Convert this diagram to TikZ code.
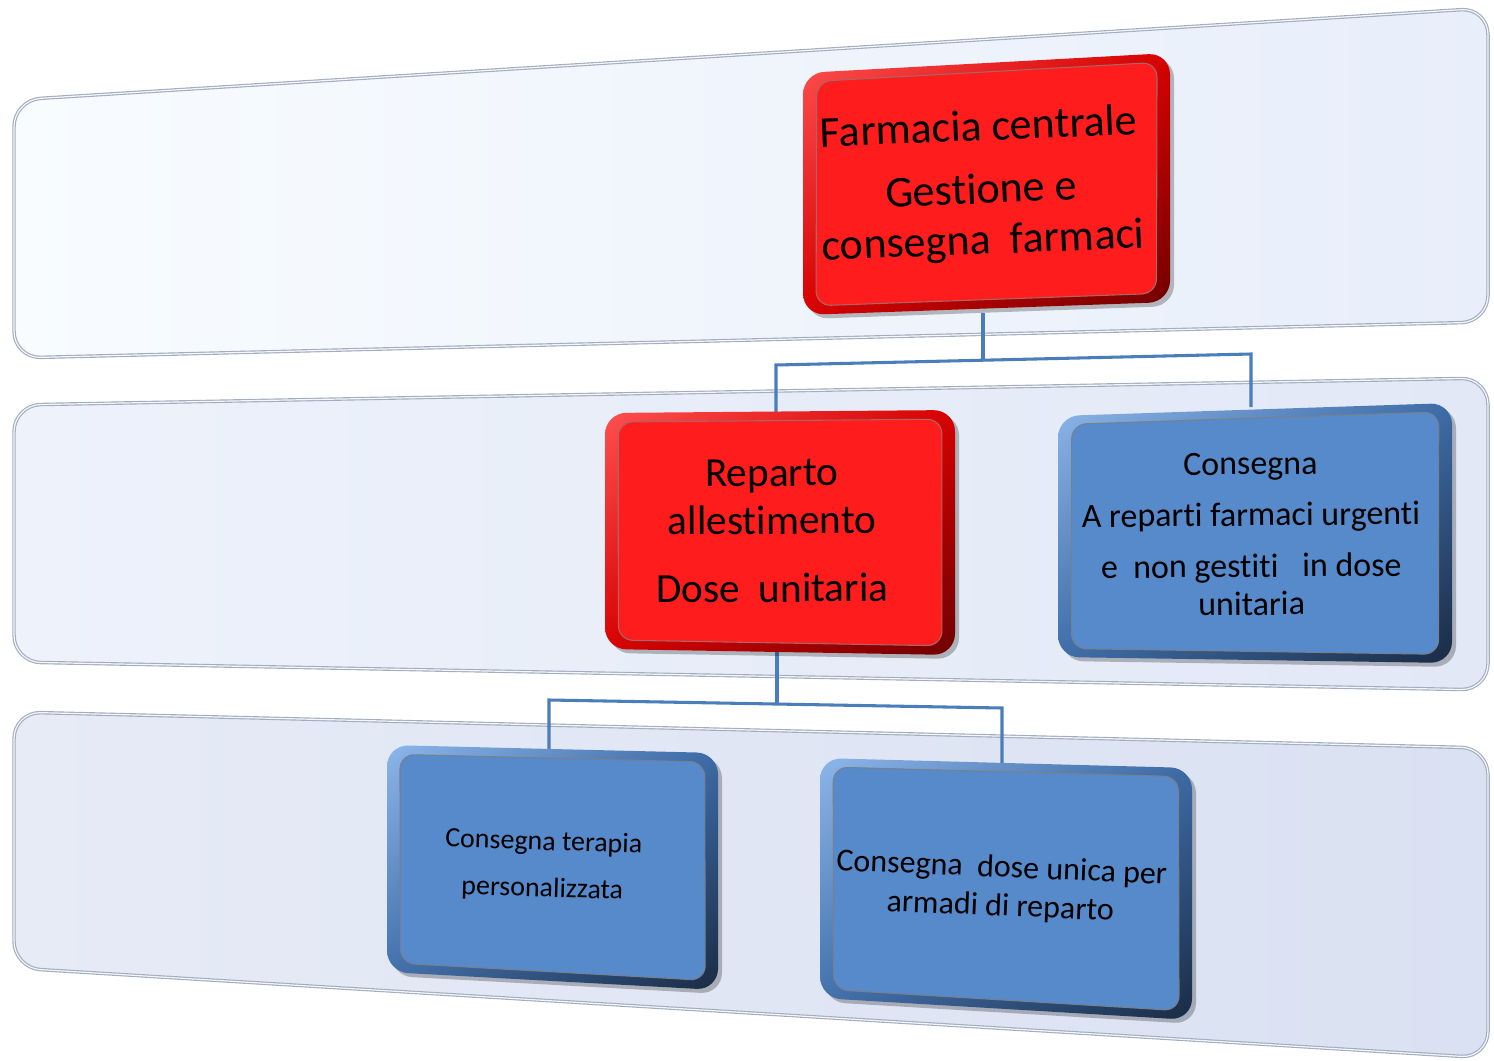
\documentclass[tikz,border=0pt]{standalone}
\usepackage{fontspec}
\setmainfont[Ligatures={NoCommon}]{Carlito}
\usetikzlibrary{calc,shadings}
\definecolor{redface}{HTML}{FF1C1C}
\definecolor{redlight}{HTML}{FF5050}
\definecolor{redmid}{HTML}{D80000}
\definecolor{reddark}{HTML}{6E0000}
\definecolor{blueface}{HTML}{578ACB}
\definecolor{bluelight}{HTML}{8DB6E9}
\definecolor{bluemid}{HTML}{3D6CA8}
\definecolor{bluedark}{HTML}{1A2B44}
\definecolor{connc}{HTML}{4A7EBB}
\definecolor{bandedge}{HTML}{A3ADC0}
\definecolor{bandinner}{HTML}{F4F6FA}
\definecolor{bandAl}{HTML}{F8FCFF}
\definecolor{bandAr}{HTML}{E8EEFA}
\definecolor{bandBl}{HTML}{EDF2FB}
\definecolor{bandBr}{HTML}{E2E8F6}
\definecolor{bandCl}{HTML}{E6EBF6}
\definecolor{bandCr}{HTML}{DAE1F2}
\newcommand\bevbox[6]{%
  \fill[black, opacity=0.25, rounded corners=16pt]
    ($(#1)+(4,4)$)--($(#2)+(4,4)$)--($(#3)+(4,4)$)--($(#4)+(4,4)$)--cycle;
  \shade[rounded corners=16pt, upper left=#5light, upper right=#5mid,
         lower left=#5mid, lower right=#5dark]
    (#1)--(#2)--(#3)--(#4)--cycle;
  \fill[#5face, draw=#5dark!60, line width=0.8pt, rounded corners=11pt]
    ($(#1)!12pt!(#6)$)--($(#2)!12pt!(#6)$)--($(#3)!12pt!(#6)$)--($(#4)!12pt!(#6)$)--cycle;
}
\newcommand\bandshape[6]{%
  \shade[left color=#5, right color=#6, rounded corners=20pt]
    (#1)--(#2)--(#3)--(#4)--cycle;
  \draw[bandedge, line width=2.6pt, rounded corners=20pt]
    (#1)--(#2)--(#3)--(#4)--cycle;
  \draw[bandinner, line width=0.9pt, rounded corners=20pt]
    (#1)--(#2)--(#3)--(#4)--cycle;
}
\begin{document}
\begin{tikzpicture}[x=0.75pt,y=-0.75pt,
  conn/.style={draw=connc, line width=2.3pt},
  txt/.style={align=center, text=black, inner sep=0pt}]
\useasboundingbox (0,0) rectangle (1494,1060);
% bands
\coordinate (a1) at (14,100); \coordinate (a2) at (1488,8);
\coordinate (a3) at (1488,322); \coordinate (a4) at (14,358);
\bandshape{a1}{a2}{a3}{a4}{bandAl}{bandAr}
\coordinate (c1) at (14,405); \coordinate (c2) at (1488,378);
\coordinate (c3) at (1488,690); \coordinate (c4) at (14,662);
\bandshape{c1}{c2}{c3}{c4}{bandBl}{bandBr}
\coordinate (d1) at (14,712); \coordinate (d2) at (1488,748);
\coordinate (d3) at (1488,1058); \coordinate (d4) at (14,968);
\bandshape{d1}{d2}{d3}{d4}{bandCl}{bandCr}
% connectors
\coordinate (b1s) at (983,313); \coordinate (j1) at (983,360);
\coordinate (j1l) at (776,365); \coordinate (j1r) at (1251,354);
\coordinate (b2n) at (776,414); \coordinate (b3n) at (1251,407);
\draw[conn] (b1s) -- (j1);
\draw[conn] (b2n) -- (j1l) -- (j1r) -- (b3n);
\coordinate (b2s) at (777,650); \coordinate (j2) at (777,704);
\coordinate (j2l) at (549,700); \coordinate (j2r) at (1002,708);
\coordinate (b4n) at (549,750); \coordinate (b5n) at (1002,763);
\draw[conn] (b2s) -- (j2);
\draw[conn] (b4n) -- (j2l) -- (j2r) -- (b5n);
% box 1
\coordinate (p1) at (803,73); \coordinate (p2) at (1170,53);
\coordinate (p3) at (1170,302); \coordinate (p4) at (803,315);
\coordinate (pc) at (986,186);
\bevbox{p1}{p2}{p3}{p4}{red}{pc}
% box 2
\coordinate (q1) at (605,413); \coordinate (q2) at (955,410);
\coordinate (q3) at (955,655); \coordinate (q4) at (605,649);
\coordinate (qc) at (780,532);
\bevbox{q1}{q2}{q3}{q4}{red}{qc}
% box 3
\coordinate (r1) at (1058,416); \coordinate (r2) at (1452,403);
\coordinate (r3) at (1452,663); \coordinate (r4) at (1058,657);
\coordinate (rc) at (1255,535);
\bevbox{r1}{r2}{r3}{r4}{blue}{rc}
% box 4
\coordinate (s1) at (387,745); \coordinate (s2) at (718,753);
\coordinate (s3) at (718,990); \coordinate (s4) at (387,972);
\coordinate (sc) at (552,865);
\bevbox{s1}{s2}{s3}{s4}{blue}{sc}
% box 5
\coordinate (t1) at (820,758); \coordinate (t2) at (1192,768);
\coordinate (t3) at (1192,1020); \coordinate (t4) at (820,998);
\coordinate (tc) at (1006,886);
\bevbox{t1}{t2}{t3}{t4}{blue}{tc}
% texts
\node[txt, font=\fontsize{33}{38}\selectfont, rotate=2.3] (n1) at (981,186)
  {Farmacia centrale\\[9pt]Gestione e\\consegna\hspace{0.45em}farmaci};
\node[txt, font=\fontsize{31}{36}\selectfont, rotate=0.3] (n2) at (772,531)
  {Reparto\\allestimento\\[15pt]Dose\hspace{0.45em}unitaria};
\node[txt, font=\fontsize{25.5}{28.5}\selectfont, rotate=0.5] (n3) at (1251,534)
  {Consegna\\[10pt]A reparti farmaci urgenti\\[10pt]e\hspace{0.45em}non gestiti\hspace{0.7em}in dose\\unitaria};
\node[txt, font=\fontsize{21}{25}\selectfont, rotate=-1.8] (n4) at (543,866)
  {Consegna terapia\\[10pt]personalizzata};
\node[txt, font=\fontsize{24}{29}\selectfont, rotate=-2.4] (n5) at (1001,888)
  {Consegna\hspace{0.45em}dose unica per\\armadi di reparto};
\end{tikzpicture}
\end{document}
